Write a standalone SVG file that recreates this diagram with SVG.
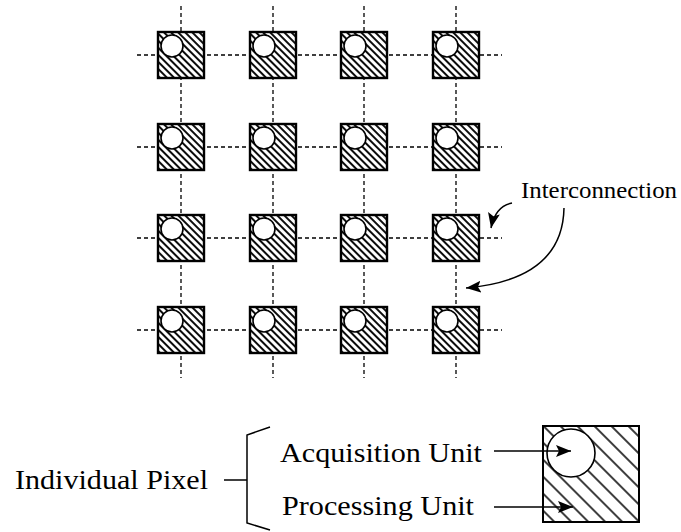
<svg xmlns="http://www.w3.org/2000/svg" width="681" height="532" viewBox="0 0 681 532">
<style>
.sq{stroke:#000;stroke-width:2.4;fill:url(#hs)}
.sqb{stroke:#000;stroke-width:2;fill:url(#hb)}
.ci{fill:#fff;stroke:#000;stroke-width:1.6}
.dash{stroke:#000;stroke-width:1.3;stroke-dasharray:4 3;fill:none}
.ln{stroke:#000;stroke-width:1.5;fill:none}
.t{font-family:'Liberation Serif','Times New Roman',Times,serif;fill:#000}
</style>
<defs>
<pattern id="hs" patternUnits="userSpaceOnUse" width="10" height="5" patternTransform="rotate(45)">
<rect width="10" height="5" fill="#fff"/>
<line x1="0" y1="1" x2="10" y2="1" stroke="#000" stroke-width="1.9"/>
</pattern>
<pattern id="hb" patternUnits="userSpaceOnUse" width="20" height="12" patternTransform="rotate(45)">
<rect width="20" height="12" fill="#fff"/>
<line x1="0" y1="1" x2="20" y2="1" stroke="#000" stroke-width="1.5"/>
</pattern>
<marker id="ah" markerUnits="userSpaceOnUse" markerWidth="18" markerHeight="14" refX="15" refY="6" orient="auto">
<path d="M0,0 L15,6 L0,12 L3,6 z" fill="#000"/>
</marker>
<symbol id="px" overflow="visible">
<rect class="sq" x="0" y="0" width="46" height="46"/>
<circle class="ci" cx="14" cy="14" r="11"/>
</symbol>
</defs>
<g id="connectors">
<line class="dash" x1="181" y1="6" x2="181" y2="378"/>
<line class="dash" x1="273" y1="6" x2="273" y2="378"/>
<line class="dash" x1="364" y1="6" x2="364" y2="378"/>
<line class="dash" x1="456" y1="6" x2="456" y2="378"/>
<line class="dash" x1="137" y1="55" x2="502" y2="55"/>
<line class="dash" x1="137" y1="147" x2="502" y2="147"/>
<line class="dash" x1="137" y1="238" x2="502" y2="238"/>
<line class="dash" x1="137" y1="330" x2="502" y2="330"/>
</g>
<g id="grid">
<g id="p11"><use href="#px" x="158" y="32"/></g>
<g id="p12"><use href="#px" x="250" y="32"/></g>
<g id="p13"><use href="#px" x="341" y="32"/></g>
<g id="p14"><use href="#px" x="433" y="32"/></g>
<g id="p21"><use href="#px" x="158" y="124"/></g>
<g id="p22"><use href="#px" x="250" y="124"/></g>
<g id="p23"><use href="#px" x="341" y="124"/></g>
<g id="p24"><use href="#px" x="433" y="124"/></g>
<g id="p31"><use href="#px" x="158" y="215"/></g>
<g id="p32"><use href="#px" x="250" y="215"/></g>
<g id="p33"><use href="#px" x="341" y="215"/></g>
<g id="p34"><use href="#px" x="433" y="215"/></g>
<g id="p41"><use href="#px" x="158" y="307"/></g>
<g id="p42"><use href="#px" x="250" y="307"/></g>
<g id="p43"><use href="#px" x="341" y="307"/></g>
<g id="p44"><use href="#px" x="433" y="307"/></g>
</g>
<g id="big-pixel">
<rect class="sqb" x="543" y="426" width="96" height="96"/>
<circle class="ci" cx="571" cy="453" r="24"/>
</g>
<g id="arrows">
<path class="ln" d="M512,203 C501,205 494,213 491,228" marker-end="url(#ah)"/>
<path class="ln" d="M564,208 C563,262 522,283 466,288" marker-end="url(#ah)"/>
<line class="ln" x1="494" y1="451" x2="571" y2="451" marker-end="url(#ah)"/>
<line class="ln" x1="494" y1="507" x2="573" y2="507" marker-end="url(#ah)"/>
<line class="ln" x1="224" y1="480" x2="247" y2="480"/>
<path class="ln" d="M270,427 L247,435 L247,523 L270,530"/>
</g>
<g id="labels">
<text class="t" x="521" y="198" font-size="23" font-family="Liberation Serif" textLength="156" lengthAdjust="spacingAndGlyphs">Interconnection</text>
<text class="t" x="15" y="489" font-size="28" font-family="Liberation Serif" textLength="193" lengthAdjust="spacingAndGlyphs">Individual Pixel</text>
<text class="t" x="280" y="462" font-size="28" font-family="Liberation Serif" textLength="202" lengthAdjust="spacingAndGlyphs">Acquisition Unit</text>
<text class="t" x="282" y="515" font-size="28" font-family="Liberation Serif" textLength="192" lengthAdjust="spacingAndGlyphs">Processing Unit</text>
</g>
</svg>
